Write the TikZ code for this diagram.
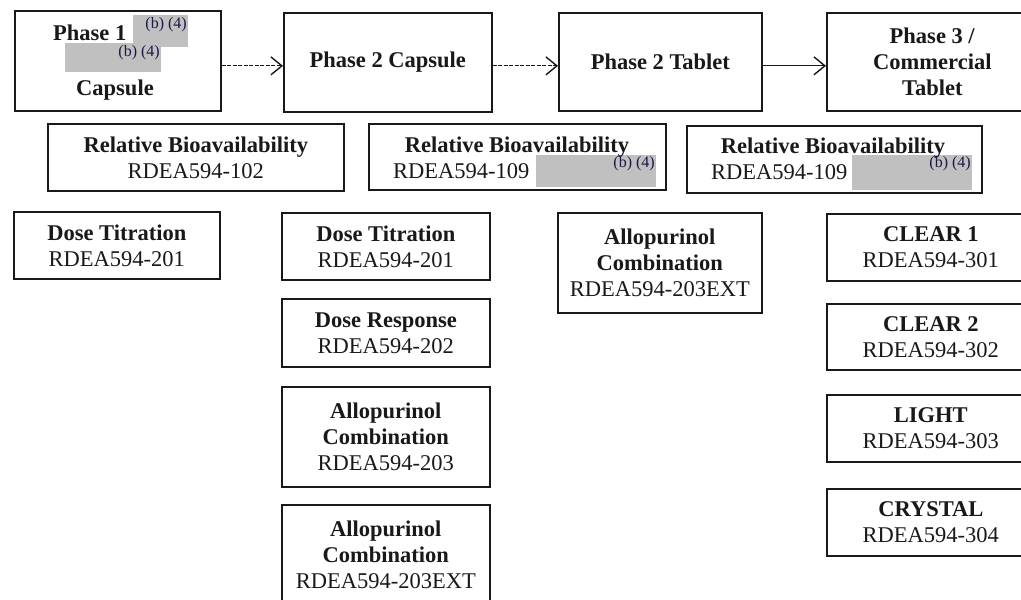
\documentclass[tikz,border=0pt]{standalone}
\usepackage{fontspec}
\setmainfont{Liberation Serif}
\usetikzlibrary{arrows.meta}
\definecolor{redact}{RGB}{192,192,192}
\definecolor{ink}{RGB}{25,25,25}
\definecolor{bfour}{RGB}{25,25,70}
\tikzset{
  box/.style={draw=ink, line width=1.7pt, rectangle, inner sep=0pt, anchor=north west,
    align=center, text=ink, font=\fontsize{22.5}{26}\selectfont},
  txt/.style={inner sep=0pt, text=ink, font=\fontsize{22.5}{26}\selectfont},
  bf/.style={txt, font=\fontsize{22.5}{26}\selectfont\bfseries},
  bfourtxt/.style={inner sep=0pt, anchor=base east, text=bfour, font=\fontsize{16}{18}\selectfont},
  flow/.style={draw=ink, line width=1.2pt, -{Straight Barb[length=11pt,width=18pt,line width=1.4pt]}},
  flowdash/.style={flow, dash pattern=on 4pt off 1.5pt}
}
\begin{document}
\begin{tikzpicture}[x=1pt,y=-1pt]
\useasboundingbox (0,0) rectangle (1021,600);
\fill[white] (0,0) rectangle (1021,600);

% top row
\node[box, minimum width=206pt, minimum height=100pt] (p1) at (14,10) {};
\node[box, minimum width=208pt, minimum height=99pt] (p2c) at (283,12) {\textbf{Phase 2 Capsule}};
\node[box, minimum width=203pt, minimum height=98pt] (p2t) at (558,12) {\textbf{Phase 2 Tablet}};
\node[box, minimum width=211pt, minimum height=98pt] (p3) at (826,12) {\textbf{Phase 3 /}\\\textbf{Commercial}\\\textbf{Tablet}};

% phase 1 contents
\node[bf, anchor=base west] (p1a) at (53,40) {Phase 1};
\fill[redact] (133,15) rectangle (188,47);
\fill[redact] (65,43) rectangle (161,72);
\node[bfourtxt] (r1) at (187,28) {(b) (4)};
\node[bfourtxt] (r2) at (160,56) {(b) (4)};
\node[bf, anchor=base] (p1b) at (115,95) {Capsule};

% arrows
\draw[flowdash] ([yshift=-5pt]p1.east) -- ([yshift=-3.5pt]p2c.west);
\draw[flowdash] ([yshift=-3.5pt]p2c.east) -- ([yshift=-4pt]p2t.west);
\draw[flow] ([yshift=-4pt]p2t.east) -- ([yshift=-4pt]p3.west);

% relative bioavailability row
\node[box, minimum width=296pt, minimum height=67pt] (rb1) at (47,123) {\textbf{Relative Bioavailability}\\RDEA594-102};
\node[box, minimum width=297pt, minimum height=66pt] (rb2) at (368,123) {};
\node[box, minimum width=295pt, minimum height=67pt] (rb3) at (686,125) {};
\fill[redact] (536,155) rectangle (656,186.5);
\fill[redact] (852,155) rectangle (972,189.5);
\node[bf, anchor=base] (rb2a) at (517,152) {Relative Bioavailability};
\node[txt, anchor=base west] (rb2b) at (393,178) {RDEA594-109};
\node[bfourtxt] (r3) at (655,167) {(b) (4)};
\node[bf, anchor=base] (rb3a) at (833,153) {Relative Bioavailability};
\node[txt, anchor=base west] (rb3b) at (711,179) {RDEA594-109};
\node[bfourtxt] (r4) at (971,167) {(b) (4)};

% phase 1 column
\node[box, minimum width=206pt, minimum height=67pt] (dt1) at (13,211) {\textbf{Dose Titration}\\RDEA594-201};

% phase 2 capsule column
\node[box, minimum width=208pt, minimum height=67pt] (dt2) at (281,212) {\textbf{Dose Titration}\\RDEA594-201};
\node[box, minimum width=208pt, minimum height=68pt] (dr) at (281,298) {\textbf{Dose Response}\\RDEA594-202};
\node[box, minimum width=208pt, minimum height=100pt] (ac1) at (281,386) {\textbf{Allopurinol}\\\textbf{Combination}\\RDEA594-203};
\node[box, minimum width=208pt, minimum height=100pt] (ac2) at (281,504) {\textbf{Allopurinol}\\\textbf{Combination}\\RDEA594-203EXT};

% phase 2 tablet column
\node[box, minimum width=204pt, minimum height=100pt] (ac3) at (557,212) {\textbf{Allopurinol}\\\textbf{Combination}\\RDEA594-203EXT};

% phase 3 column
\node[box, minimum width=208pt, minimum height=67pt] (c1) at (826,213) {\textbf{CLEAR 1}\\RDEA594-301};
\node[box, minimum width=208pt, minimum height=66pt] (c2) at (826,303) {\textbf{CLEAR 2}\\RDEA594-302};
\node[box, minimum width=208pt, minimum height=67pt] (lt) at (826,394) {\textbf{LIGHT}\\RDEA594-303};
\node[box, minimum width=208pt, minimum height=67pt] (cr) at (826,488) {\textbf{CRYSTAL}\\RDEA594-304};
\end{tikzpicture}
\end{document}
